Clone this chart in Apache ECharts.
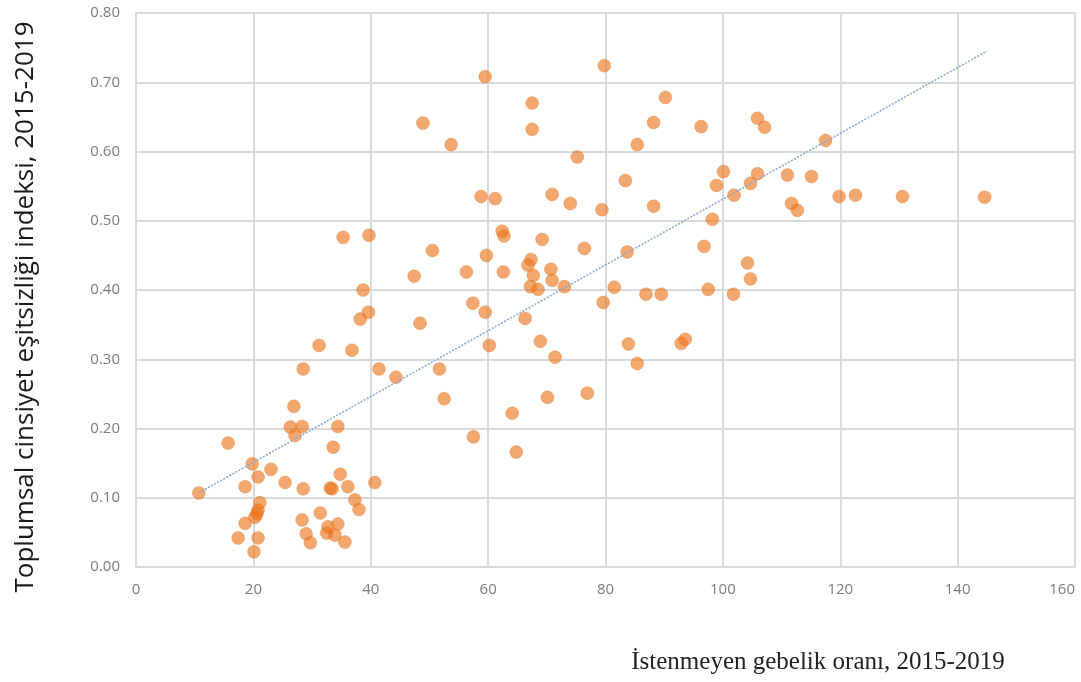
<!DOCTYPE html>
<html>
<head>
<meta charset="utf-8">
<script src="https://cdn.jsdelivr.net/npm/echarts@6/dist/echarts.min.js"></script>
<style>
  html, body { margin: 0; padding: 0; background: #ffffff; }
  #chart { width: 1081px; height: 682px; }
</style>
</head>
<body>
<div id="chart"></div>
<script>
// Unintended pregnancy rate (x) and gender inequality index (y), one pair per country
const pregnancyRate = [
  10.7, 15.7, 17.4, 18.6, 18.6, 19.8, 20.1, 20.3, 20.8, 21.1,
  20.6, 20.8, 20.8, 23.0, 25.4, 26.3, 26.9, 27.1, 28.3, 28.5,
  28.3, 28.5, 29.0, 29.7, 31.2, 31.4, 32.5, 32.7, 33.1, 33.4,
  33.6, 33.9, 34.4, 34.4, 34.8, 35.3, 35.6, 36.1, 36.8, 37.3,
  38.0, 38.2, 38.7, 39.6, 39.7, 40.7, 41.4, 44.3, 47.4, 48.4,
  48.9, 50.5, 51.7, 52.5, 53.7, 56.3, 57.4, 57.5, 58.8, 59.5,
  59.5, 59.7, 60.2, 61.2, 62.4, 62.7, 62.6, 64.1, 64.8, 66.3,
  66.8, 67.3, 67.2, 67.5, 67.5, 67.7, 68.5, 68.9, 69.2, 70.1,
  70.7, 70.9, 70.9, 71.4, 73.0, 74.0, 75.2, 76.4, 76.9, 79.4,
  79.6, 79.8, 81.5, 83.4, 83.7, 83.9, 85.4, 85.4, 86.9, 88.2,
  88.2, 89.5, 90.2, 92.9, 93.6, 96.3, 96.8, 97.5, 98.2, 98.9,
  100.1, 101.8, 101.9, 104.2, 104.7, 104.7, 105.9, 105.9, 107.1, 111.0,
  111.7, 112.7, 115.1, 117.5, 119.8, 122.6, 130.6, 144.6
];
const inequalityIndex = [
  0.107, 0.179, 0.042, 0.116, 0.063, 0.149, 0.022, 0.072, 0.082, 0.093,
  0.077, 0.130, 0.042, 0.141, 0.122, 0.202, 0.232, 0.190, 0.203, 0.113,
  0.068, 0.286, 0.048, 0.035, 0.320, 0.078, 0.049, 0.058, 0.114, 0.113,
  0.173, 0.046, 0.062, 0.203, 0.134, 0.476, 0.036, 0.116, 0.313, 0.097,
  0.083, 0.358, 0.400, 0.368, 0.479, 0.122, 0.286, 0.274, 0.420, 0.352,
  0.641, 0.457, 0.286, 0.243, 0.610, 0.426, 0.381, 0.188, 0.535, 0.708,
  0.368, 0.450, 0.320, 0.532, 0.485, 0.478, 0.426, 0.222, 0.166, 0.359,
  0.436, 0.444, 0.405, 0.670, 0.632, 0.421, 0.401, 0.326, 0.473, 0.245,
  0.430, 0.414, 0.538, 0.303, 0.405, 0.525, 0.592, 0.460, 0.251, 0.516,
  0.382, 0.724, 0.404, 0.558, 0.455, 0.322, 0.610, 0.294, 0.394, 0.642,
  0.521, 0.394, 0.678, 0.323, 0.329, 0.636, 0.463, 0.401, 0.502, 0.551,
  0.571, 0.394, 0.537, 0.439, 0.416, 0.554, 0.648, 0.568, 0.635, 0.566,
  0.525, 0.515, 0.564, 0.616, 0.535, 0.537, 0.535, 0.534
];

// Linear trend line end points
const trendX = [10.7, 145];
const trendY = [0.107, 0.745];

const xTicks = [0, 20, 40, 60, 80, 100, 120, 140, 160];
const yTicks = [0, 0.1, 0.2, 0.3, 0.4, 0.5, 0.6, 0.7, 0.8];

const xTitle = 'İstenmeyen gebelik oranı, 2015-2019';
const yTitle = 'Toplumsal cinsiyet eşitsizliği indeksi, 2015-2019';

const points = pregnancyRate.map((x, i) => [x, inequalityIndex[i]]);
const trend = trendX.map((x, i) => [x, trendY[i]]);

const gridColor = '#dadada';
const labelStyle = {
  color: '#7c7c7c',
  fontFamily: 'Open Sans, Noto Sans, sans-serif',
  fontSize: 15
};

const chart = echarts.init(document.getElementById('chart'), null, { renderer: 'canvas' });
chart.setOption({
  animation: false,
  backgroundColor: '#ffffff',
  grid: {
    left: 136, right: 6, top: 13, bottom: 115,
    containLabel: false,
    outerBoundsMode: 'none'
  },
  xAxis: {
    type: 'value',
    min: xTicks[0],
    max: xTicks[xTicks.length - 1],
    interval: xTicks[1] - xTicks[0],
    axisLine: { show: true, lineStyle: { color: gridColor, width: 2 } },
    axisTick: { show: false },
    splitLine: { show: true, lineStyle: { color: gridColor, width: 2 } },
    axisLabel: Object.assign({ margin: 15, alignMaxLabel: 'right' }, labelStyle)
  },
  yAxis: {
    type: 'value',
    min: yTicks[0],
    max: yTicks[yTicks.length - 1],
    interval: 0.1,
    axisLine: { show: true, lineStyle: { color: gridColor, width: 2 } },
    axisTick: { show: false },
    splitLine: { show: true, lineStyle: { color: gridColor, width: 2 } },
    axisLabel: Object.assign({ margin: 16, formatter: v => v.toFixed(2) }, labelStyle)
  },
  graphic: [
    {
      type: 'text',
      x: 26,
      y: 307,
      rotation: Math.PI / 2,
      style: {
        text: yTitle,
        fill: '#1a1a1a',
        font: '26px "Open Sans", "Noto Sans", sans-serif',
        align: 'center',
        verticalAlign: 'middle'
      }
    },
    {
      type: 'text',
      x: 818,
      y: 662,
      style: {
        text: xTitle,
        fill: '#222222',
        font: '25px "Liberation Serif", "DejaVu Serif", serif',
        align: 'center',
        verticalAlign: 'middle'
      }
    }
  ],
  series: [
    {
      type: 'line',
      data: trend,
      showSymbol: false,
      symbol: 'none',
      silent: true,
      z: 3,
      lineStyle: { color: '#8eaad2', width: 1.6, type: [2, 1.5] }
    },
    {
      type: 'scatter',
      data: points,
      symbolSize: 13,
      z: 2,
      itemStyle: {
        color: 'rgba(236, 112, 20, 0.76)',
        borderColor: 'rgba(220, 110, 30, 0.35)',
        borderWidth: 1
      }
    }
  ]
});
</script>
</body>
</html>
